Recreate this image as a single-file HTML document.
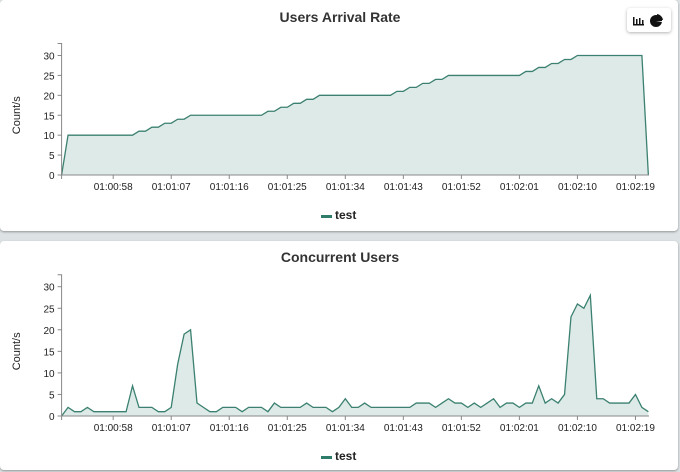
<!DOCTYPE html>
<html><head><meta charset="utf-8"><style>
body{margin:0;width:680px;height:472px;background:#dde2e4;font-family:"Liberation Sans",sans-serif;overflow:hidden;position:relative}
.card{position:absolute;left:0;width:678px;background:#fff;border-radius:4px;box-shadow:0 1px 2px rgba(0,0,0,.35)}
svg{position:absolute;left:0;top:0}
</style></head><body>
<div class="card" style="top:0;height:231px"></div>
<div class="card" style="top:241px;height:229px"></div>
<div style="position:absolute;left:627px;top:8px;width:44px;height:24px;background:#fff;border-radius:3px;box-shadow:0 1px 3px rgba(0,0,0,.3)">
<svg width="44" height="24"><g fill="#111"><rect x="6" y="9" width="1.5" height="8"/><rect x="6" y="16" width="11" height="1.5"/><rect x="9" y="11" width="1.5" height="5"/><rect x="12" y="10" width="1.5" height="6"/><rect x="15" y="12" width="1.5" height="4"/></g><circle cx="29" cy="13" r="6" fill="#111"/><path d="M30 12 L30 6 A7 7 0 0 1 36 12 Z" fill="#111"/><path d="M29 13 L35 13 L35 14 Z" fill="#fff"/></svg></div>
<svg id="s" width="680" height="472"></svg>
<script>
const times=[];for(let t=50;t<=141;t++)times.push(t);
const tickTimes=[58,67,76,85,94,103,112,121,130,139];
const tickLabels=["01:00:58","01:01:07","01:01:16","01:01:25","01:01:34","01:01:43","01:01:52","01:02:01","01:02:10","01:02:19"];
const yTicks=[0,5,10,15,20,25,30];
const arrival=[0,10,10,10,10,10,10,10,10,10,10,10,11,11,12,12,13,13,14,14,15,15,15,15,15,15,15,15,15,15,15,15,16,16,17,17,18,18,19,19,20,20,20,20,20,20,20,20,20,20,20,20,21,21,22,22,23,23,24,24,25,25,25,25,25,25,25,25,25,25,25,25,26,26,27,27,28,28,29,29,30,30,30,30,30,30,30,30,30,30,30,0];
const concurrent=[0,2,1,1,2,1,1,1,1,1,1,7,2,2,2,1,1,2,12,19,20,3,2,1,1,2,2,2,1,2,2,2,1,3,2,2,2,2,3,2,2,2,1,2,4,2,2,3,2,2,2,2,2,2,2,3,3,3,2,3,4,3,3,2,3,2,3,4,2,3,3,2,3,3,7,3,4,3,5,23,26,25,28,4,4,3,3,3,3,5,2,1];
const NS="http://www.w3.org/2000/svg",S=document.getElementById('s');
function el(tag,attrs,parent,text){const e=document.createElementNS(NS,tag);for(const k in attrs)e.setAttribute(k,attrs[k]);if(text!==undefined)e.textContent=text;(parent||S).appendChild(e);return e;}
function chart(name,title,vals,y0,y30,titleY,legY){
const g=el('g',{});


const xL=61.6,xR=649,t0=50,t1=141.1;
const x=t=>xL+(t-t0)/(t1-t0)*(xR-xL);
const y=v=>y0-(v/30)*(y0-y30);
const tt=el('text',{x:340,y:titleY,'text-anchor':'middle','font-size':14,'font-weight':'bold',fill:'#333'},g,title);


let d='';vals.forEach((v,i)=>{d+=(i?'L':'M')+x(times[i]).toFixed(2)+' '+y(v).toFixed(2);});
const n=Math.min(vals.length,times.length)-1;
const area=el('path',{d:d+'L'+x(times[n])+' '+y0+'L'+x(times[0])+' '+y0+'Z',fill:'#2e7d6b','fill-opacity':0.16},g);


const line=el('path',{d:d,fill:'none',stroke:'#3b8070','stroke-width':1.3},g);


const ax=el('path',{d:`M${xL-4} ${y(30)-12}H${xL}V${y0}H${xR}`,fill:'none',stroke:'#888','stroke-width':1},g);


yTicks.forEach(v=>{el('line',{x1:xL-4,x2:xL,y1:y(v),y2:y(v),stroke:'#888'},g);
const l=el('text',{x:xL-7,y:y(v)+4,'text-anchor':'end','font-size':10,fill:'#222'},g,v);

});
el('line',{x1:xL,x2:xL,y1:y0,y2:y0+4,stroke:'#888'},g);
tickTimes.forEach((t,i)=>{el('line',{x1:x(t),x2:x(t),y1:y0,y2:y0+4,stroke:'#888'},g);
const l=el('text',{x:x(t),y:y0+15,'text-anchor':'middle','font-size':10,fill:'#222'},g,tickLabels[i]);

});
const yt=el('text',{transform:`translate(20 ${(y0+y(30))/2}) rotate(-90)`,'text-anchor':'middle','font-size':11,fill:'#222'},g,'Count/s');


const lg=el('g',{},g);


el('rect',{x:321,y:legY-4,width:11,height:3,fill:'#2e7d6b'},lg);
el('text',{x:335,y:legY,'font-size':12,'font-weight':'bold',fill:'#222'},lg,'test');
}
chart('arrival-rate-chart','Users Arrival Rate',arrival,175,55.5,22,219);
chart('concurrent-users-chart','Concurrent Users',concurrent,416,286.7,262,460);
</script>
</body></html>
